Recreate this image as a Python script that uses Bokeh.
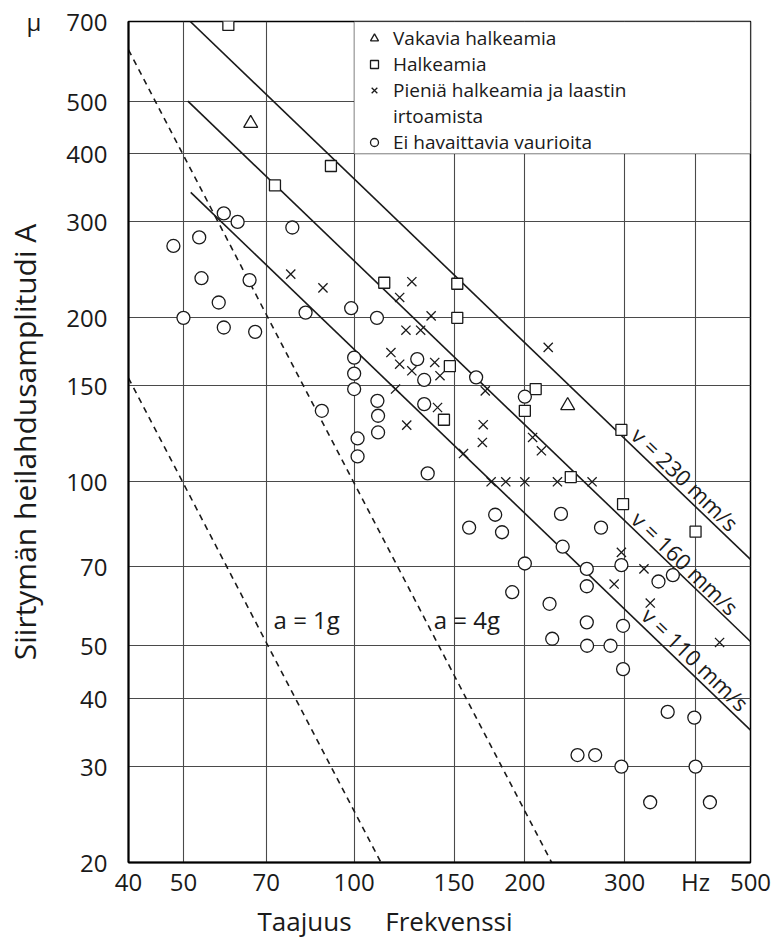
import math
from bokeh.plotting import figure
from bokeh.models import (FixedTicker, CustomJSTickFormatter, Label, BoxAnnotation,
                          Legend, LegendItem, Title)
from bokeh.embed import file_html
from bokeh.resources import INLINE

FONT = "Open Sans"
NB = "\u00a0"

# ---------------- data ----------------
x_ticks = [40, 50, 70, 100, 150, 200, 300, 400, 500]
x_tick_labels = ["40", "50", "70", "100", "150", "200", "300", "Hz", "500"]
y_ticks = [20, 30, 40, 50, 70, 100, 150, 200, 300, 400, 500, 700]
y_tick_labels = ["20", "30", "40", "50", "70", "100", "150", "200", "300", "400", "500", "700"]
unit_mu = "μ"

legend_labels = ["Vakavia halkeamia", "Halkeamia", "Pieniä halkeamia ja laastin",
                 "irtoamista", "Ei havaittavia vaurioita"]

# Vakavia halkeamia (triangles)
severe_f = [65.7, 238]
severe_A = [455, 138]

# Halkeamia (squares)
crack_f = [60, 72.5, 91, 113, 152, 152, 147.5, 144, 209, 200, 296, 241, 298, 400]
crack_A = [690, 350, 380, 232, 231, 200, 163, 130, 148, 135, 124.5, 102, 91, 81]

# Pieniä halkeamia ja laastin irtoamista (crosses)
small_f = [77.3, 88.1, 126.4, 120.3, 136.7, 123.4, 131.0, 116.1, 120.3, 126.4, 138.7,
           141.7, 118.3, 140.3, 123.8, 219.9, 170.3, 168.9, 168.3, 155.9, 206.4, 213.9,
           174.4, 185.1, 200, 228.3, 262.8, 296, 324.4, 287.4, 332.8, 441]
small_A = [240.6, 227, 233, 218, 201.7, 189.8, 189.8, 172.7, 164.4, 159.9, 165.6,
           156.6, 148, 136.9, 127.1, 176.5, 146.9, 127.3, 118.1, 112.7, 120.6, 114,
           100, 100, 100, 100, 100, 74.2, 69.2, 64.9, 59.9, 50.7]

# Ei havaittavia vaurioita (circles)
none_f = [58.9, 62.3, 77.8, 48.0, 53.3, 53.8, 65.4, 57.7, 50, 82.1, 98.8, 109.7, 58.9,
          66.9, 100, 100, 100, 109.9, 110.2, 110.2, 87.7, 101.4, 101.4, 129.2, 132.9,
          132.9, 134.8, 164.1, 200, 177.3, 159.5, 182.3, 231.6, 272.5, 233.2, 200,
          257.2, 296, 344.1, 364.8, 257.2, 190.0, 221.1, 257.2, 298, 223.5, 257.5,
          283.2, 298, 357.2, 398, 247.7, 266.1, 296, 400, 332.7, 424]
none_A = [311, 300, 293, 271, 281, 236.5, 234.6, 213.4, 200, 204.5, 208.3, 200, 192,
          188.5, 169, 158, 148, 140.8, 132.2, 123.2, 135, 120.1, 111.3, 168, 153.8,
          138.9, 103.6, 155.5, 143.3, 87.0, 82.4, 80.8, 87.3, 82.4, 76.0, 70.8,
          69.2, 70.3, 65.6, 67.4, 64.3, 62.7, 59.7, 55.2, 54.4, 51.5, 50,
          50, 45.3, 37.8, 36.9, 31.5, 31.5, 30, 30, 25.8, 25.8]

# constant velocity lines (end points)
v_labels = ["v = 230 mm/s", "v = 160 mm/s", "v = 110 mm/s"]
v230_f = [51.4, 500]
v230_A = [700, 72]
v160_f = [50.9, 500]
v160_A = [500, 50.9]
v110_f = [51.5, 500]
v110_A = [340, 35]

# constant acceleration lines (end points)
a_labels = ["a = 1g", "a = 4g"]
a1g_f = [40, 111.5]
a1g_A = [155, 20]
a4g_f = [40, 223]
a4g_A = [621, 20]

y_title = "Siirtymän heilahdusamplitudi A"
x_title = ["Taajuus", "Frekvenssi"]

# ---------------- figure ----------------
W, H = 773, 938
BL, BR, BT, BB = 128, 23, 21, 76
FW, FH = W - BL - BR, H - BT - BB
p = figure(x_axis_type="log", y_axis_type="log", x_range=(40, 500), y_range=(20, 700),
           width=W, height=H,
           min_border_left=BL, min_border_right=BR, min_border_top=BT, min_border_bottom=BB,
           output_backend="svg", toolbar_location=None,
           background_fill_color="white", border_fill_color="white")

# unit sign "μ" sits to the left of the top tick label
y_tick_shown = list(y_tick_labels)
y_tick_shown[-1] = unit_mu + NB * 4 + y_tick_labels[-1]

xt = FixedTicker(ticks=x_ticks, minor_ticks=[])
yt = FixedTicker(ticks=y_ticks, minor_ticks=[])
fmt_code = """
for (let i = 0; i < vals.length; i++) {
  if (Math.abs(vals[i] - tick) < 1e-6 * vals[i]) return labs[i];
}
return '';
"""
p.xaxis.ticker = xt
p.yaxis.ticker = yt
p.xgrid.ticker = xt
p.ygrid.ticker = yt
p.xaxis.formatter = CustomJSTickFormatter(args=dict(vals=x_ticks, labs=x_tick_labels), code=fmt_code)
p.yaxis.formatter = CustomJSTickFormatter(args=dict(vals=y_ticks, labs=y_tick_shown), code=fmt_code)

for ax in (p.xaxis, p.yaxis):
    ax.major_tick_line_color = None
    ax.minor_tick_line_color = None
    ax.axis_line_color = "black"
    ax.axis_line_width = 2
    ax.major_label_text_font = FONT
    ax.major_label_text_font_size = "24px"
    ax.major_label_text_color = "#1a1a1a"
p.xaxis.major_label_standoff = -4
p.yaxis.major_label_standoff = 15

p.yaxis.axis_label = y_title
p.yaxis.axis_label_text_font = FONT
p.yaxis.axis_label_text_font_size = "30px"
p.yaxis.axis_label_text_font_style = "normal"
p.yaxis.axis_label_text_color = "#1a1a1a"
p.yaxis.axis_label_standoff = -21

p.grid.grid_line_color = "#4a4a4a"
p.grid.grid_line_width = 1.1
p.outline_line_color = "black"
p.outline_line_width = 1.5

# x axis title (two words, left-aligned under the frame)
p.add_layout(Title(text=x_title[0] + NB * 5 + x_title[1], align="left", offset=129,
                   standoff=0, text_font=FONT, text_font_size="26px",
                   text_font_style="normal", text_color="#1a1a1a"), "below")

# ---------------- lines ----------------
for fv, av in ((v230_f, v230_A), (v160_f, v160_A), (v110_f, v110_A)):
    p.line(fv, av, line_color="#1a1a1a", line_width=1.6)
for fv, av in ((a1g_f, a1g_A), (a4g_f, a4g_A)):
    p.line(fv, av, line_color="#1a1a1a", line_width=1.6, line_dash="6 5")

# ---------------- markers ----------------
mk = dict(fill_color="white", line_color="#1a1a1a", line_width=1.3)
r_tri = p.scatter(severe_f, severe_A, marker="triangle", size=14, **mk)
r_sq = p.scatter(crack_f, crack_A, marker="square", size=11, **mk)
r_x = p.scatter(small_f, small_A, marker="x", size=13, line_color="#1a1a1a", line_width=1.3)
r_o = p.scatter(none_f, none_A, marker="circle", size=13, **mk)
r_blank = p.scatter(x=[], y=[], marker="circle", size=1, fill_alpha=0, line_alpha=0)

# ---------------- legend ----------------
box = BoxAnnotation(left=100, right=500, bottom=400, top=700, fill_color="white",
                    fill_alpha=1.0, line_color="black", line_width=1.3)
p.add_layout(box)
legend = Legend(items=[LegendItem(label=legend_labels[0], renderers=[r_tri]),
                       LegendItem(label=legend_labels[1], renderers=[r_sq]),
                       LegendItem(label=legend_labels[2], renderers=[r_x]),
                       LegendItem(label=legend_labels[3], renderers=[r_blank]),
                       LegendItem(label=legend_labels[4], renderers=[r_o])],
                location=(230, 701), orientation="vertical",
                label_text_font=FONT, label_text_font_size="19px", label_text_color="#1a1a1a",
                glyph_width=20, glyph_height=22, label_height=22, spacing=0, padding=6,
                label_standoff=9, margin=0,
                background_fill_alpha=0, border_line_alpha=0)
p.add_layout(legend, "center")

# ---------------- text labels ----------------
ang = -math.atan((FH / math.log10(700 / 20)) / (FW / math.log10(500 / 40)))
v_pos = [(384, 101.3), (384, 71.0), (400, 47.3)]
for txt, (fx, ay) in zip(v_labels, v_pos):
    p.add_layout(Label(x=fx, y=ay, text=txt, angle=ang, text_align="center",
                       text_baseline="middle", text_font=FONT, text_font_size="22px",
                       text_color="#1a1a1a"))
a_pos = [(72.1, 55.8), (138.1, 55.8)]
for txt, (fx, ay) in zip(a_labels, a_pos):
    p.add_layout(Label(x=fx, y=ay, text=txt, text_align="left", text_baseline="alphabetic",
                       text_font=FONT, text_font_size="24px", text_color="#1a1a1a"))

open("out.html", "w").write(file_html(p, INLINE))
